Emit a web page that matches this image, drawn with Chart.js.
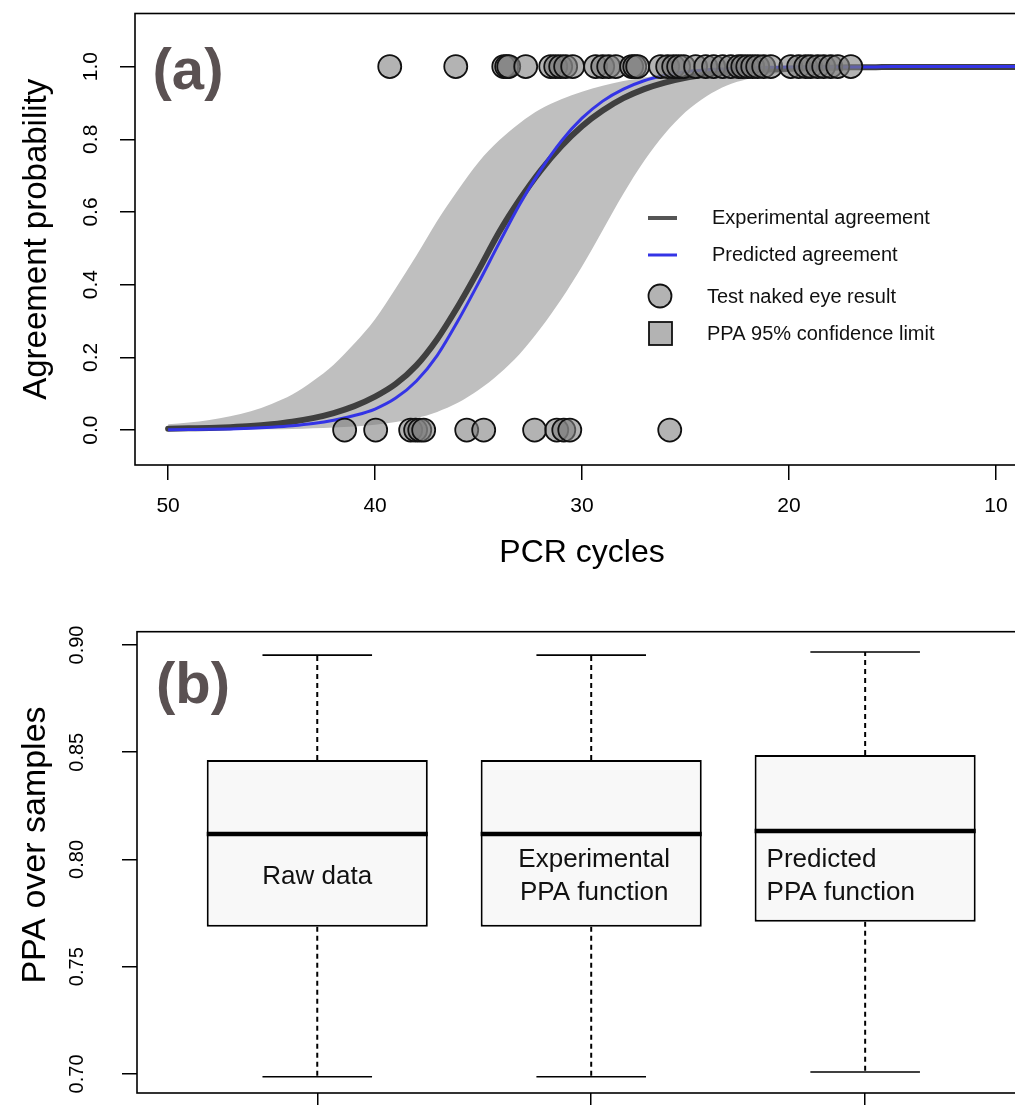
<!DOCTYPE html>
<html><head><meta charset="utf-8">
<script src="https://cdn.jsdelivr.net/npm/chart.js@4.4.1/dist/chart.umd.min.js"></script>
<style>
html,body{margin:0;padding:0;background:#fff;overflow:hidden;width:1015px;height:1105px;}
#wrap{position:relative;width:1015px;height:1105px;overflow:hidden;background:#fff;}
canvas{position:absolute;left:0;}
#ca{top:0}
#cb{top:590px}
</style></head><body>
<div id="wrap"><canvas id="ca" width="1045" height="590"></canvas><canvas id="cb" width="1045" height="515"></canvas></div>
<script>
// ---------- Panel (a) data ----------
const cycles = [50,49,48,47,46,45,44,43,42,41,40,39,38,37,36,35,34,33,32,31,30,29,28,27,26,25,24,23,22,21,20,19,18,17,16,15,14,13,12,11,10,9,8];
const expAgree = [0.004,0.005,0.006,0.008,0.011,0.016,0.023,0.033,0.047,0.066,0.092,0.127,0.178,0.25,0.34,0.44,0.545,0.635,0.714,0.781,0.836,0.879,0.913,0.938,0.956,0.969,0.978,0.985,0.989,0.992,0.994,0.996,0.997,0.998,0.998,0.999,0.999,0.999,0.999,0.999,0.999,0.999,0.999];
const predAgree = [0.001,0.0015,0.002,0.003,0.005,0.008,0.012,0.018,0.027,0.040,0.058,0.088,0.135,0.205,0.30,0.405,0.515,0.622,0.715,0.795,0.858,0.905,0.938,0.961,0.976,0.986,0.991,0.994,0.996,0.998,0.999,0.999,0.999,0.999,0.999,1,1,1,1,1,1,1,1];
const ciUpper = [0.016,0.021,0.028,0.038,0.052,0.072,0.098,0.135,0.18,0.238,0.305,0.39,0.48,0.575,0.66,0.737,0.797,0.845,0.883,0.91,0.931,0.947,0.96,0.97,0.978,0.985,0.989,0.992,0.995,0.997,0.998,0.999,0.999,0.999,1,1,1,1,1,1,1,1,1];
const ciLower = [0.000,0.000,0.001,0.001,0.0015,0.002,0.003,0.005,0.007,0.010,0.015,0.022,0.033,0.05,0.075,0.11,0.155,0.21,0.28,0.36,0.45,0.55,0.65,0.74,0.815,0.875,0.918,0.948,0.966,0.978,0.986,0.991,0.994,0.996,0.997,0.998,0.999,0.999,0.999,1,1,1,1];
// naked-eye test results: agreement (1) and disagreement (0) samples, by Ct
const agreeCycles = [39.29,36.10,33.78,33.64,33.54,32.72,31.51,31.27,31.03,30.79,30.45,29.34,29.00,28.71,28.37,27.60,27.45,27.31,26.20,25.86,25.57,25.33,25.09,24.51,24.02,23.64,23.20,22.81,22.43,22.23,21.99,21.75,21.51,21.22,20.88,19.91,19.53,19.19,18.95,18.61,18.32,17.98,17.64,17.01];
const disagreeCycles = [41.47,39.97,38.28,38.04,37.84,37.65,35.57,34.75,32.29,31.22,30.88,30.59,25.76];
const xTicksA = [50,40,30,20,10];
const xTickLabelsA = ['50','40','30','20','10'];
const yTicksA = [0,0.2,0.4,0.6,0.8,1.0];
const yTickLabelsA = ['0.0','0.2','0.4','0.6','0.8','1.0'];
const legendLabelsA = ['Experimental agreement','Predicted agreement','Test naked eye result','PPA 95% confidence limit'];

// ---------- Panel (b) data ----------
const boxPos = [1,2,3];
const boxLabels = [['Raw data'],['Experimental','PPA function'],['Predicted','PPA function']];
const whiskerLow = [0.6987,0.6987,0.7009];
const q1 = [0.7686,0.7686,0.7709];
const median = [0.8119,0.8119,0.8133];
const q3 = [0.8464,0.8464,0.8487];
const whiskerHigh = [0.8953,0.8953,0.8967];
const yTicksB = [0.70,0.75,0.80,0.85,0.90];
const yTickLabelsB = ['0.70','0.75','0.80','0.85','0.90'];
const yTitleB = 'PPA over samples';

// ---------- common ----------
const FONT = '"Liberation Sans", Arial, Helvetica, sans-serif';
Chart.defaults.font.family = FONT;
Chart.defaults.color = '#000';
const PT_FILL = 'rgba(128,128,128,0.6)';
const BLUE = '#3434e6';
const DARK = '#3f3f3f';
const BAND = '#bfbfbf';

function drawRotLabels(ctx, scale, vals, labels, xc, size){
  ctx.save();
  ctx.font = size + 'px ' + FONT;
  ctx.fillStyle = '#000';
  ctx.textAlign = 'center';
  ctx.textBaseline = 'middle';
  vals.forEach((v,i)=>{
    const py = scale.getPixelForValue(v);
    ctx.save(); ctx.translate(xc, py); ctx.rotate(-Math.PI/2);
    ctx.fillText(labels[i], 0, 0); ctx.restore();
  });
  ctx.restore();
}
function frame(ctx, a){
  ctx.save(); ctx.strokeStyle = '#000'; ctx.lineWidth = 1.6;
  ctx.strokeRect(a.left, a.top, a.right - a.left, a.bottom - a.top);
  ctx.restore();
}
function panelTag(ctx, txt, x, y){
  ctx.save(); ctx.font = 'bold 58px ' + FONT; ctx.fillStyle = '#5a5152';
  ctx.textAlign = 'center'; ctx.textBaseline = 'middle'; ctx.fillText(txt, x, y); ctx.restore();
}

const decorA = {
  id: 'decorA',
  afterDraw(chart){
    const {ctx, chartArea: a, scales: {y}} = chart;
    frame(ctx, a);
    drawRotLabels(ctx, y, yTicksA, yTickLabelsA, 91, 21);
    panelTag(ctx, '(a)', 188, 73);
    // legend
    ctx.save();
    ctx.lineCap = 'butt';
    ctx.strokeStyle = '#555'; ctx.lineWidth = 4;
    ctx.beginPath(); ctx.moveTo(648, 218); ctx.lineTo(677, 218); ctx.stroke();
    ctx.strokeStyle = BLUE; ctx.lineWidth = 3;
    ctx.beginPath(); ctx.moveTo(648, 255); ctx.lineTo(677, 255); ctx.stroke();
    ctx.fillStyle = PT_FILL; ctx.strokeStyle = '#111'; ctx.lineWidth = 1.8;
    ctx.beginPath(); ctx.arc(660, 296, 11.5, 0, Math.PI*2); ctx.fill(); ctx.stroke();
    ctx.fillRect(649, 322, 23, 23); ctx.strokeRect(649, 322, 23, 23);
    ctx.font = '20px ' + FONT; ctx.fillStyle = '#111'; ctx.textAlign = 'left'; ctx.textBaseline = 'middle';
    ctx.fillText(legendLabelsA[0], 712, 218);
    ctx.fillText(legendLabelsA[1], 712, 255);
    ctx.fillText(legendLabelsA[2], 707, 297);
    ctx.fillText(legendLabelsA[3], 707, 334);
    ctx.restore();
  }
};

const curve = vals => cycles.map((c,i)=>({x:c, y:vals[i]}));
const lineBase = {type:'line', pointRadius:0, cubicInterpolationMode:'monotone'};

new Chart(document.getElementById('ca'), {
  type: 'scatter',
  data: { datasets: [
    { label: legendLabelsA[2],
      data: [...agreeCycles.map(c=>({x:c,y:1})), ...disagreeCycles.map(c=>({x:c,y:0}))],
      pointRadius: 11.5, pointBackgroundColor: PT_FILL, pointBorderColor: '#111', pointBorderWidth: 1.8,
      showLine: false, order: 0 },
    Object.assign({}, lineBase, { label: legendLabelsA[1], data: curve(predAgree), borderColor: BLUE, borderWidth: 3, fill: false, order: 1 }),
    Object.assign({}, lineBase, { label: legendLabelsA[0], data: curve(expAgree), borderColor: DARK, borderWidth: 6, borderCapStyle: 'round', fill: false, order: 2 }),
    Object.assign({}, lineBase, { label: legendLabelsA[3], data: curve(ciUpper), borderWidth: 0, borderColor: 'rgba(0,0,0,0)', backgroundColor: BAND, fill: {target: 4}, order: 3 }),
    Object.assign({}, lineBase, { label: 'lower limit', data: curve(ciLower), borderWidth: 0, borderColor: 'rgba(0,0,0,0)', fill: false, order: 4 })
  ]},
  options: {
    responsive: false, animation: false, events: [],
    layout: { padding: { left: 0, right: 16, top: 13.5, bottom: 0 } },
    plugins: { legend: { display: false }, tooltip: { enabled: false } },
    scales: {
      x: { type: 'linear', reverse: true, min: 8.4, max: 51.6,
        afterBuildTicks: s => { s.ticks = xTicksA.map(v => ({value: v})); },
        afterFit: s => { s.height = 125; },
        grid: { drawOnChartArea: false, drawTicks: true, tickLength: 15, color: '#000', lineWidth: 1.5 },
        border: { display: false },
        ticks: { font: { size: 21 }, padding: 14, color: '#000', maxRotation: 0, autoSkip: false,
          callback: v => { const i = xTicksA.indexOf(v); return i >= 0 ? xTickLabelsA[i] : ''; } },
        title: { display: true, text: 'PCR cycles', font: { size: 32 }, padding: { top: 0, bottom: 18 }, color: '#000' }
      },
      y: { type: 'linear', min: -0.096, max: 1.146,
        afterBuildTicks: s => { s.ticks = yTicksA.map(v => ({value: v})); },
        afterFit: s => { s.width = 135; },
        grid: { drawOnChartArea: false, drawTicks: true, tickLength: 15, color: '#000', lineWidth: 1.5 },
        border: { display: false },
        ticks: { display: false },
        title: { display: true, text: 'Agreement probability', font: { size: 33 }, padding: { top: 17, bottom: 0 }, color: '#000' }
      }
    }
  },
  plugins: [decorA]
});

// ---------- Panel (b) ----------
const BOX_HALF = 0.4035;   // half box width in axis units
const CAP_HALF = 0.2;      // half whisker-cap width in axis units
const decorB = {
  id: 'decorB',
  afterDraw(chart){
    const {ctx, chartArea: a, scales: {x, y}} = chart;
    frame(ctx, a);
    drawRotLabels(ctx, y, yTicksB, yTickLabelsB, 77, 20);
    panelTag(ctx, '(b)', 193, 97);
    ctx.save();
    // y-axis title (R places it slightly above the plot centre here)
    ctx.font = '34px ' + FONT; ctx.fillStyle = '#000'; ctx.textAlign = 'center'; ctx.textBaseline = 'middle';
    ctx.translate(36, 255); ctx.rotate(-Math.PI/2); ctx.fillText(yTitleB, 0, 0);
    ctx.restore();
    ctx.save();
    ctx.font = '26px ' + FONT; ctx.fillStyle = '#111'; ctx.textBaseline = 'middle';
    const yc = y.getPixelForValue(0.792);
    const lh = 33;
    boxLabels.forEach((lines, i) => {
      const n = lines.length;
      lines.forEach((t, k) => {
        const ty = yc + (k - (n - 1) / 2) * lh;
        if (i === 2) { ctx.textAlign = 'left'; ctx.fillText(t, x.getPixelForValue(boxPos[i] - BOX_HALF) + 12, ty); }
        else { ctx.textAlign = 'center'; ctx.fillText(t, x.getPixelForValue(boxPos[i]) + (i === 1 ? 3 : 0), ty); }
      });
    });
    ctx.restore();
  }
};

const seg = (pts, extra) => Object.assign({ type: 'line', data: pts, pointRadius: 0, fill: false, borderColor: '#000' }, extra);
const dsB = [];
boxPos.forEach((p, i) => {
  dsB.push(seg([{x: p - BOX_HALF, y: median[i]}, {x: p + BOX_HALF, y: median[i]}], { borderWidth: 4.5, order: 0 }));
  dsB.push(seg([{x: p, y: q3[i]}, {x: p, y: whiskerHigh[i]}], { borderWidth: 2, borderDash: [5, 4], order: 1 }));
  dsB.push(seg([{x: p, y: q1[i]}, {x: p, y: whiskerLow[i]}], { borderWidth: 2, borderDash: [5, 4], order: 1 }));
  dsB.push(seg([{x: p - CAP_HALF, y: whiskerHigh[i]}, {x: p + CAP_HALF, y: whiskerHigh[i]}], { borderWidth: 1.6, order: 1 }));
  dsB.push(seg([{x: p - CAP_HALF, y: whiskerLow[i]}, {x: p + CAP_HALF, y: whiskerLow[i]}], { borderWidth: 1.6, order: 1 }));
});
dsB.push({ type: 'bar', label: 'PPA', data: boxPos.map((p, i) => ({x: p, y: [q1[i], q3[i]]})),
  backgroundColor: '#f8f8f8', borderColor: '#000', borderWidth: 2, borderSkipped: false,
  barPercentage: 1, categoryPercentage: 2 * BOX_HALF, grouped: false, order: 5 });

new Chart(document.getElementById('cb'), {
  type: 'bar',
  data: { datasets: dsB },
  options: {
    responsive: false, animation: false, events: [],
    layout: { padding: { left: 0, right: 10, top: 41.7, bottom: 0 } },
    plugins: { legend: { display: false }, tooltip: { enabled: false } },
    scales: {
      x: { type: 'linear', min: 0.342, max: 3.62, offset: false,
        afterBuildTicks: s => { s.ticks = boxPos.map(v => ({value: v})); },
        afterFit: s => { s.height = 12; },
        grid: { drawOnChartArea: false, drawTicks: true, tickLength: 15, color: '#000', lineWidth: 1.5, offset: false },
        border: { display: false },
        ticks: { display: false }
      },
      y: { type: 'linear', min: 0.6911, max: 0.9062,
        afterBuildTicks: s => { s.ticks = yTicksB.map(v => ({value: v})); },
        afterFit: s => { s.width = 137; },
        grid: { drawOnChartArea: false, drawTicks: true, tickLength: 15, color: '#000', lineWidth: 1.5 },
        border: { display: false },
        ticks: { display: false },
        title: { display: false }
      }
    }
  },
  plugins: [decorB]
});
</script>
</body></html>
